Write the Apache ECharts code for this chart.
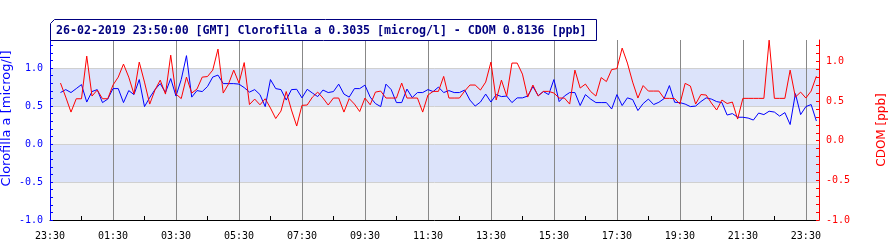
<!DOCTYPE html>
<html><head><meta charset="utf-8">
<script src="https://cdn.jsdelivr.net/npm/echarts@6/dist/echarts.min.js"></script>
<style>html,body{margin:0;padding:0;background:#fff}#c{width:890px;height:250px}</style>
</head><body><div id="c"></div>
<script>
// ---- data ----
const titleText = '26-02-2019 23:50:00 [GMT] Clorofilla a 0.3035 [microg/l] - CDOM 0.8136 [ppb]';
const axisOriginMinutes = 23 * 60 + 30;   // x axis starts at 23:30 (previous day)
const firstSampleOffset = 20;             // first sample 23:50
const sampleStep = 10;                    // minutes between samples
const axisSpanMinutes = 1465;             // 23:30 -> 23:55
const clorofilla = [
  0.678, 0.717, 0.678, 0.730, 0.783, 0.553, 0.691, 0.717, 0.546, 0.592,
  0.730, 0.730, 0.546, 0.704, 0.651, 0.849, 0.493, 0.612, 0.717, 0.796,
  0.678, 0.862, 0.632, 0.849, 1.164, 0.618, 0.704, 0.691, 0.757, 0.882,
  0.908, 0.796, 0.796, 0.796, 0.789, 0.743, 0.684, 0.717, 0.651, 0.493,
  0.849, 0.730, 0.717, 0.579, 0.717, 0.721, 0.608, 0.721, 0.671, 0.625,
  0.711, 0.678, 0.691, 0.789, 0.658, 0.618, 0.730, 0.730, 0.776, 0.618,
  0.533, 0.493, 0.789, 0.717, 0.546, 0.546, 0.724, 0.612, 0.678, 0.678,
  0.717, 0.691, 0.750, 0.678, 0.704, 0.678, 0.678, 0.711, 0.579, 0.500,
  0.553, 0.658, 0.553, 0.651, 0.625, 0.632, 0.546, 0.608, 0.608, 0.632,
  0.757, 0.638, 0.691, 0.651, 0.849, 0.559, 0.632, 0.678, 0.678, 0.507,
  0.651, 0.592, 0.546, 0.546, 0.546, 0.461, 0.651, 0.507, 0.608, 0.586,
  0.441, 0.533, 0.592, 0.520, 0.550, 0.599, 0.770, 0.550, 0.546, 0.526,
  0.493, 0.500, 0.559, 0.608, 0.592, 0.559, 0.546, 0.382, 0.401, 0.353,
  0.353, 0.342, 0.316, 0.408, 0.388, 0.432, 0.421, 0.368, 0.414, 0.257,
  0.664, 0.388, 0.493, 0.520, 0.3035
];
const cdom = [
  0.727, 0.550, 0.361, 0.529, 0.529, 1.067, 0.563, 0.639, 0.529, 0.529,
  0.702, 0.802, 0.966, 0.802, 0.588, 0.991, 0.739, 0.462, 0.639, 0.764,
  0.588, 1.079, 0.588, 0.531, 0.802, 0.601, 0.651, 0.802, 0.809, 0.890,
  1.155, 0.601, 0.714, 0.890, 0.727, 0.985, 0.456, 0.525, 0.453, 0.529,
  0.412, 0.280, 0.374, 0.620, 0.387, 0.185, 0.446, 0.450, 0.550, 0.613,
  0.538, 0.450, 0.538, 0.538, 0.361, 0.531, 0.462, 0.368, 0.538, 0.453,
  0.613, 0.626, 0.538, 0.538, 0.538, 0.727, 0.538, 0.538, 0.538, 0.361,
  0.576, 0.622, 0.622, 0.811, 0.538, 0.538, 0.538, 0.626, 0.702, 0.702,
  0.639, 0.739, 0.991, 0.513, 0.764, 0.563, 0.979, 0.979, 0.840, 0.550,
  0.702, 0.563, 0.622, 0.622, 0.601, 0.538, 0.538, 0.462, 0.890, 0.664,
  0.714, 0.620, 0.563, 0.796, 0.746, 0.897, 0.909, 1.168, 0.979, 0.739,
  0.538, 0.695, 0.626, 0.626, 0.626, 0.534, 0.534, 0.531, 0.462, 0.723,
  0.689, 0.462, 0.582, 0.576, 0.475, 0.387, 0.513, 0.469, 0.487, 0.273,
  0.534, 0.534, 0.534, 0.534, 0.534, 1.268, 0.534, 0.534, 0.534, 0.890,
  0.550, 0.613, 0.538, 0.626, 0.8136
];
const leftRange = [-1, 1.37];
const rightRange = [-1, 1.27];
const bandColors = ['#f5f5f5', '#dce3fa', '#f5f5f5', '#dce3fa', '#ffffff'];

// ---- build ----
function toPairs(arr) {
  return arr.map((v, i) => [firstSampleOffset + i * sampleStep, v]);
}
function fmtTime(m) {
  const t = ((axisOriginMinutes + Math.round(m)) % 1440 + 1440) % 1440;
  return String(Math.floor(t / 60)).padStart(2, '0') + ':' + String(t % 60).padStart(2, '0');
}
function halfLabel(v) {
  if (Math.abs(v * 2 - Math.round(v * 2)) > 1e-6) return '';
  if (Math.abs(v) < 1e-9) return '0.0';
  return v.toFixed(1);
}
const mono = 'DejaVu Sans Mono';
const chart = echarts.init(document.getElementById('c'), null, { renderer: 'canvas' });
chart.setOption({
  animation: false,
  backgroundColor: '#ffffff',
  grid: { left: 50, right: 71, top: 40, bottom: 30, containLabel: false, outerBoundsMode: 'none' },
  xAxis: {
    type: 'value', min: 0, max: axisSpanMinutes, interval: 120, z: 1,
    axisLine: { show: true, onZero: false, lineStyle: { color: '#000', width: 1 } },
    axisTick: { show: true, inside: true, length: 4, lineStyle: { color: '#888' } },
    minorTick: { show: true, splitNumber: 2, length: 4, lineStyle: { color: '#000' } },
    axisLabel: { color: '#000', fontFamily: mono, fontSize: 10, margin: 11, formatter: fmtTime, showMaxLabel: false },
    splitLine: { show: true, showMinLine: false, showMaxLine: false, lineStyle: { color: '#888', width: 1 } }
  },
  yAxis: [
    {
      type: 'value', position: 'left', min: leftRange[0], max: leftRange[1], interval: 0.1, z: 3,
      name: 'Clorofilla a [microg/l]', nameLocation: 'middle', nameRotate: 90, nameGap: 37, nameMoveOverlap: false,
      nameTextStyle: { color: '#0000ff', fontFamily: 'DejaVu Sans', fontSize: 13, padding: [0, 0, 0, 23] },
      axisLine: { show: true, onZero: false, lineStyle: { color: '#0000ff', width: 1 } },
      axisTick: { show: true, inside: true, length: 3, lineStyle: { color: '#0000ff' } },
      axisLabel: { color: '#0000ff', fontFamily: mono, fontSize: 10, margin: 7, formatter: halfLabel, showMaxLabel: false },
      splitLine: { show: false }
    },
    {
      type: 'value', position: 'right', min: rightRange[0], max: rightRange[1], interval: 0.1, z: 3,
      name: 'CDOM [ppb]', nameLocation: 'middle', nameRotate: 90, nameGap: 57,
      nameTextStyle: { color: '#ff0000', fontFamily: 'DejaVu Sans', fontSize: 12 },
      axisLine: { show: true, onZero: false, lineStyle: { color: '#ff0000', width: 1 } },
      axisTick: { show: true, inside: true, length: 3, lineStyle: { color: '#ff0000' } },
      axisLabel: { color: '#ff0000', fontFamily: mono, fontSize: 10, margin: 7, formatter: halfLabel, showMaxLabel: false },
      splitLine: { show: false }
    },
    {
      type: 'value', position: 'left', min: leftRange[0], max: leftRange[1], interval: 0.5, z: 0,
      axisLine: { show: false }, axisTick: { show: false }, axisLabel: { show: false },
      splitArea: { show: true, areaStyle: { color: bandColors } },
      splitLine: { show: true, showMinLine: false, showMaxLine: false, lineStyle: { color: '#d0d0d0', width: 1 } }
    }
  ],
  series: [
    {
      name: 'Clorofilla a', type: 'line', yAxisIndex: 0, data: toPairs(clorofilla),
      showSymbol: false, symbol: 'none', lineStyle: { color: '#0000ff', width: 1 }, itemStyle: { color: '#0000ff' }, z: 2
    },
    {
      name: 'CDOM', type: 'line', yAxisIndex: 1, data: toPairs(cdom),
      showSymbol: false, symbol: 'none', lineStyle: { color: '#ff0000', width: 1 }, itemStyle: { color: '#ff0000' }, z: 2
    }
  ],
  graphic: [
    {
      type: 'polygon', z: 10,
      shape: { points: [[50.5, 23.5], [54.5, 19.5], [596.5, 19.5], [596.5, 40.5], [50.5, 40.5]] },
      style: { fill: '#ffffff', stroke: '#000080', lineWidth: 1 }
    },
    {
      type: 'text', z: 11, x: 56, y: 31,
      style: { text: titleText, fill: '#000080', font: 'bold 11.6px "DejaVu Sans Mono"', textAlign: 'left', textVerticalAlign: 'middle' }
    }
  ]
});
</script>
</body></html>
